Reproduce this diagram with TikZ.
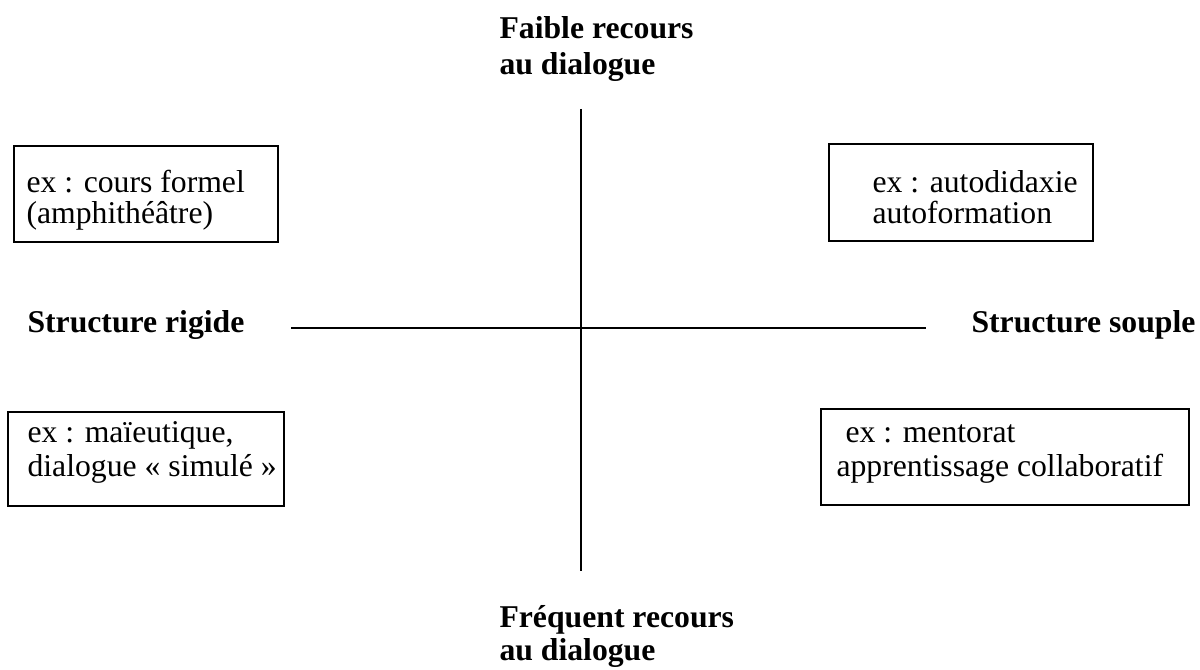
\documentclass[tikz,border=0pt,12pt]{standalone}
\usepackage{fontspec}
\setmainfont{Liberation Serif}
\usepackage{tikz}

\begin{document}
\begin{tikzpicture}[x=0.3785pt, y=-0.3785pt,
    axe/.style={line width=0.75pt},
    cadre/.style={line width=0.75pt},
    titre/.style={anchor=base west, inner sep=0pt, font=\bfseries},
    exemple/.style={anchor=base west, inner sep=0pt}]
    \useasboundingbox (0,0) rectangle (1200,670);

    % Axes
    \coordinate (haut) at (581,109);
    \coordinate (bas) at (581,571);
    \coordinate (gauche) at (291,328);
    \coordinate (droite) at (926,328);
    \draw[axe] (haut) -- (bas);
    \draw[axe] (gauche) -- (droite);

    % Labels of the axes
    \node[titre] (faibleA) at (499,39) {Faible recours};
    \node[titre] (faibleB) at (499,75) {au dialogue};
    \node[titre] (frequentA) at (499,628) {Fréquent recours};
    \node[titre] (frequentB) at (499,661) {au dialogue};
    \node[titre] (rigide) at (27,333) {Structure rigide};
    \node[titre] (souple) at (971,333) {Structure souple};

    % Top left box
    \draw[cadre] (14,146) rectangle (278,242);
    \node[exemple] (hgA) at (26,193) {ex : cours formel};
    \node[exemple] (hgB) at (26,224) {(amphithéâtre)};

    % Top right box
    \draw[cadre] (829,144) rectangle (1093,241);
    \node[exemple] (hdA) at (872,193) {ex : autodidaxie};
    \node[exemple] (hdB) at (872,224) {autoformation};

    % Bottom left box
    \draw[cadre] (8,412) rectangle (284,506);
    \node[exemple] (bgA) at (27,443) {ex : maïeutique,};
    \node[exemple] (bgB) at (27,477) {dialogue « simulé »};

    % Bottom right box
    \draw[cadre] (821,409) rectangle (1189,505);
    \node[exemple] (bdA) at (845,443) {ex : mentorat};
    \node[exemple] (bdB) at (836,477) {apprentissage collaboratif};
\end{tikzpicture}
\end{document}
